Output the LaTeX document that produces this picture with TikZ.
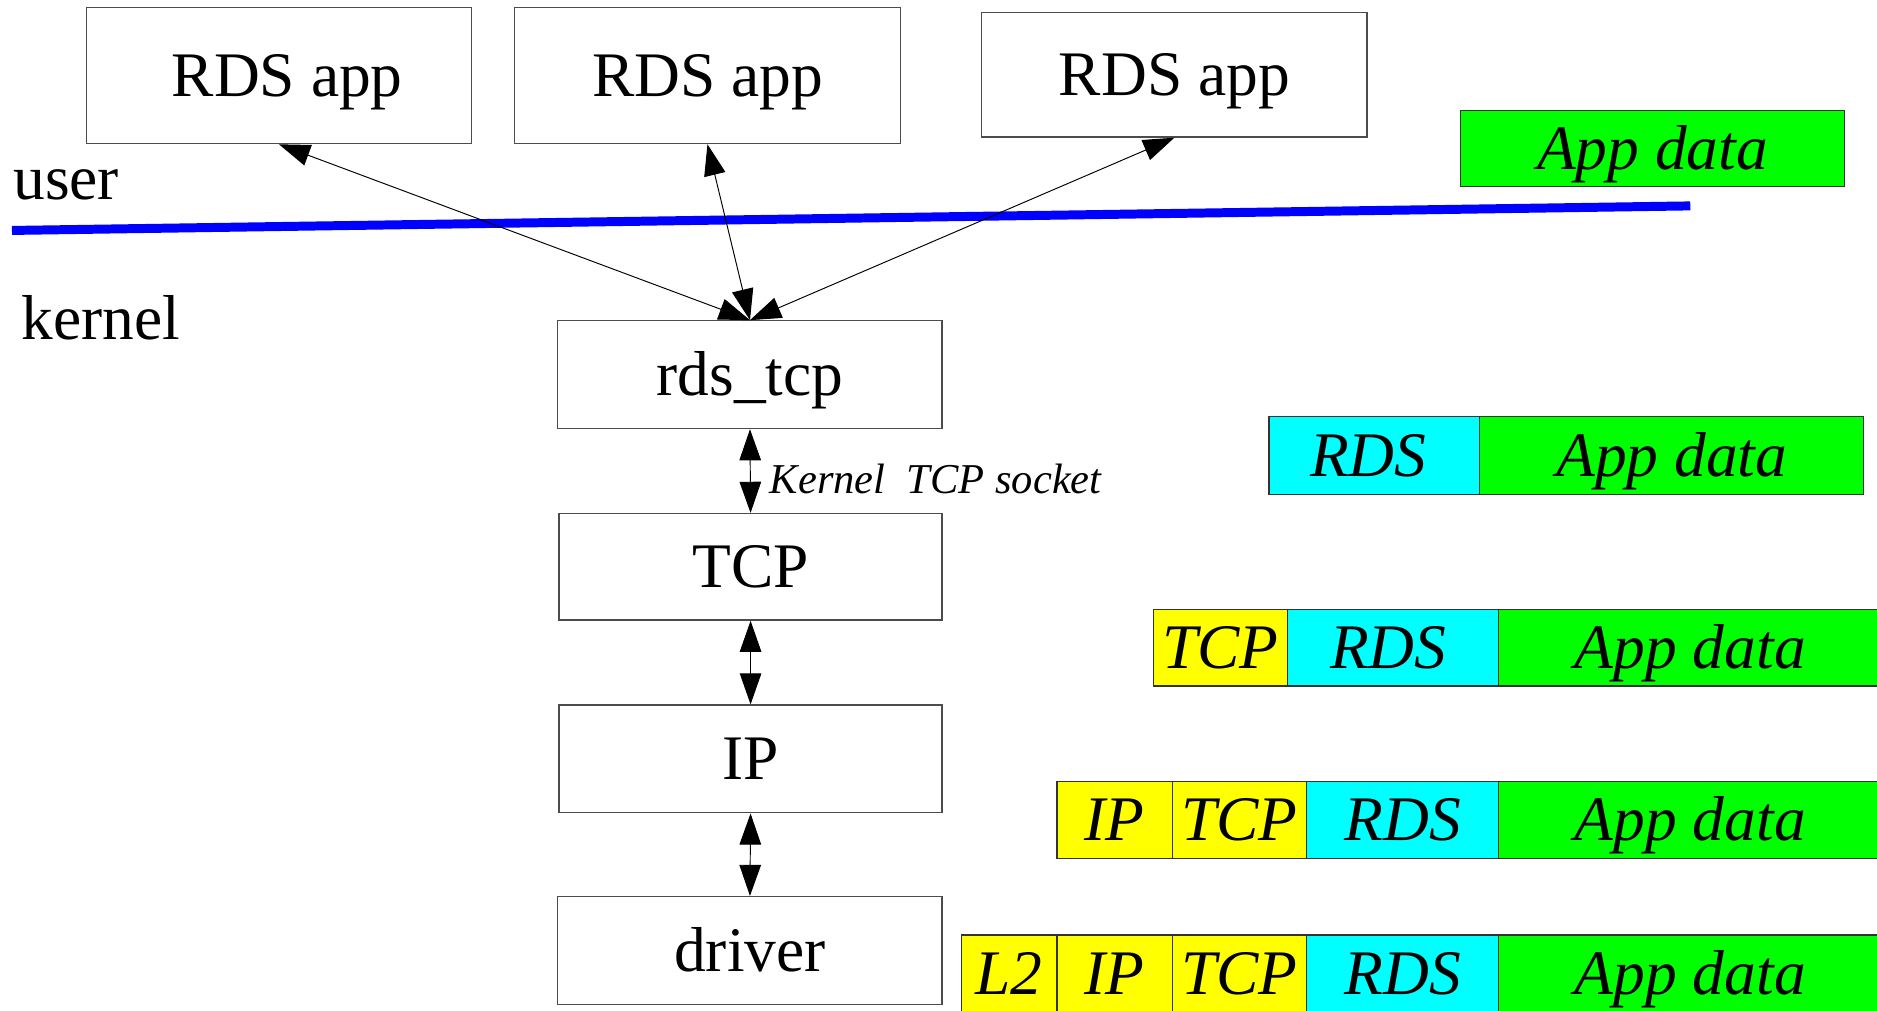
\documentclass[tikz,border=0pt]{standalone}
\usepackage{fontspec}
\setmainfont{Liberation Serif}
\usetikzlibrary{arrows.meta}
\begin{document}
\begin{tikzpicture}[x=1pt,y=-1pt,
  box/.style={draw=black!70, line width=1.1pt, fill=white, inner sep=0pt,
    font=\fontsize{53}{60}\selectfont, text height=34.7pt, text depth=0pt},
  pk/.style={draw=black!80, line width=1pt, inner sep=0pt,
    font=\fontsize{53}{60}\selectfont\itshape, text height=34.7pt, text depth=0pt},
  grn/.style={pk, fill={rgb,255:red,0;green,255;blue,0}},
  cyn/.style={pk, fill={rgb,255:red,0;green,255;blue,255}},
  yel/.style={pk, fill={rgb,255:red,255;green,255;blue,0}},
  lbl/.style={inner sep=0pt, anchor=base west, font=\fontsize{53}{60}\selectfont},
  dbl/.style={{Triangle[length=26pt,width=18pt]}-{Triangle[length=26pt,width=18pt]}, line width=0.8pt},
  bound/.style={draw={rgb,255:red,0;green,0;blue,255}, line width=7.5pt}
]
\useasboundingbox (0,0) rectangle (1568,844);
\clip (0,0) rectangle (1568,844);
\fill[white] (0,0) rectangle (1568,844);

% user / kernel boundary
\coordinate (bl) at (10,192.5);
\coordinate (br) at (1412,172);
\draw[bound] (bl) -- (br);
\node[lbl] (user) at (11,167) {user};
\node[lbl] (kernel) at (18,284) {kernel};

% application boxes
\node[box, minimum width=322pt, minimum height=114pt] (app1) at (233,63) {\hspace*{14pt}RDS app};
\node[box, minimum width=322pt, minimum height=114pt] (app2) at (591,63) {RDS app};
\node[box, minimum width=322pt, minimum height=104pt] (app3) at (981,62.5) {RDS app};

% kernel stack
\node[box, minimum width=321pt, minimum height=90pt] (rdstcp) at (626.5,313) {rds\_tcp};
\node[box, minimum width=320pt, minimum height=89pt] (tcp) at (627,473.5) {TCP};
\node[box, minimum width=320pt, minimum height=90pt] (ip) at (627,634) {IP};
\node[box, minimum width=321pt, minimum height=90pt] (drv) at (626.5,794) {driver};

% connectors
\draw[dbl] (rdstcp.north) -- (app1.south);
\draw[dbl] (rdstcp.north) -- (app2.south);
\draw[dbl] (rdstcp.north) -- (app3.south);
\draw[dbl] (rdstcp.south) -- (tcp.north);
\draw[dbl] (tcp.south) -- (ip.north);
\draw[dbl] (ip.south) -- (drv.north);
\node[inner sep=0pt, anchor=base west, font=\fontsize{35.5}{40}\selectfont\itshape] (sock) at (643,412.5) {Kernel\ \ TCP socket};

% packets
\node[grn, minimum width=321pt, minimum height=64pt] (r1a) at (1380.5,124) {App data};

\node[cyn, minimum width=176pt, minimum height=65pt] (r2r) at (1148,380.5) {RDS\hspace*{10pt}};
\node[grn, minimum width=321pt, minimum height=65pt] (r2a) at (1396.5,380.5) {App data};

\node[yel, minimum width=112pt, minimum height=64pt] (r3t) at (1019.5,541) {TCP};
\node[cyn, minimum width=176.5pt, minimum height=64pt] (r3r) at (1163.75,541) {RDS\hspace*{8pt}};
\node[grn, minimum width=320pt, minimum height=64pt] (r3a) at (1412,541) {App data};

\node[yel, minimum width=96.5pt, minimum height=64pt] (r4i) at (931.25,685) {IP};
\node[yel, minimum width=112pt, minimum height=64pt] (r4t) at (1035.5,685) {TCP};
\node[cyn, minimum width=160.5pt, minimum height=64pt] (r4r) at (1171.75,685) {RDS};
\node[grn, minimum width=320pt, minimum height=64pt] (r4a) at (1412,685) {App data};

\node[yel, minimum width=80pt, minimum height=64pt] (r5l) at (843,813) {L2};
\node[yel, minimum width=96.5pt, minimum height=64pt] (r5i) at (931.25,813) {IP};
\node[yel, minimum width=112pt, minimum height=64pt] (r5t) at (1035.5,813) {TCP};
\node[cyn, minimum width=160.5pt, minimum height=64pt] (r5r) at (1171.75,813) {RDS};
\node[grn, minimum width=320pt, minimum height=64pt] (r5a) at (1412,813) {App data};
\end{tikzpicture}
\end{document}
